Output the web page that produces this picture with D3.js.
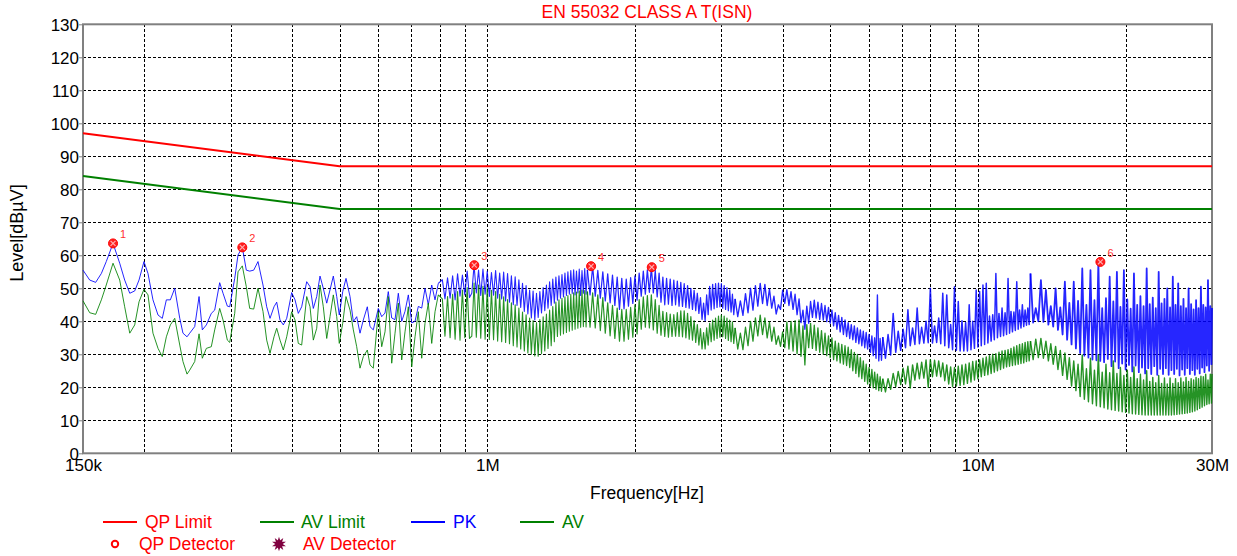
<!DOCTYPE html>
<html><head><meta charset="utf-8">
<script src="https://cdn.jsdelivr.net/npm/d3@7"></script>
<style>
html,body{margin:0;padding:0;background:#fff;}
svg{display:block;font-family:"Liberation Sans",Arial,sans-serif;}
</style></head>
<body><svg id="chart" width="1237" height="556"></svg>
<script>
// ---------------- data (frequencies in kHz, levels in dBµV) ----------------
const titleText = "EN 55032 CLASS A T(ISN)";
const yTicks = [0,10,20,30,40,50,60,70,80,90,100,110,120,130];
const xTickFreq = [150, 1000, 10000, 30000];
const xTickLabels = ["150k", "1M", "10M", "30M"];
const xGridFreq = [200,300,400,500,600,700,800,900,1000,2000,3000,4000,5000,6000,7000,8000,9000,10000,20000];

const qpLimitFreq = [150, 500, 30000];
const qpLimitLevel = [97, 87, 87];
const avLimitFreq = [150, 500, 30000];
const avLimitLevel = [84, 74, 74];

const markerFreq = [172.7, 316.8, 941, 1628, 2164, 17769];
const markerLevel = [63.6, 62.4, 57.0, 56.7, 56.4, 58.0];
const markerLabel = ["1","2","3","4","5","6"];

// 150 kHz - 800 kHz
const freqA = [150.0,154.8,159.2,163.5,167.3,172.7,178.2,182.4,186.8,191.2,195.1,199.7,203.5,208.3,213.3,217.6,221.8,226.0,230.7,236.2,239.8,244.4,247.5,253.4,258.6,262.6,267.6,273.9,278.3,284.9,289.4,295.3,298.6,305.7,310.5,316.8,322.8,328.0,334.2,341.0,349.1,
355.2,360.8,367.6,372.3,378.1,384.0,390.2,399.4,405.7,412.0,418.6,428.6,435.3,442.1,449.2,456.2,463.3,470.8,478.1,485.6,493.4,499.4,507.5,515.4,525.2,533.4,541.9,550.4,559.0,569.6,576.8,585.8,
599.7,609.4,618.9,628.5,638.7,648.7,658.8,669.4,679.8,690.5,701.6,712.5,723.6,735.3,746.7,758.4,770.6,782.6,794.8];
const pkA = [55.5,52.5,51.8,54.5,58.1,63.6,57.6,52.5,48.5,49.2,52.5,58.1,54.5,46.5,41.9,40.9,46.5,46.5,50.0,40.9,36.4,35.3,36.4,38.4,47.5,37.4,38.9,42.4,43.4,51.7,48.5,44.6,44.4,53.0,60.1,62.4,55.5,55.2,55.5,58.1,51.0,
44.4,40.9,44.4,45.8,40.4,38.9,40.9,48.7,46.5,42.4,44.4,52.0,50.5,43.9,47.5,53.7,50.0,45.5,49.5,53.7,47.5,41.9,49.0,53.0,47.5,39.9,41.4,36.4,40.4,44.4,38.4,37.4,
43.9,41.4,42.5,49.0,41.0,40.5,48.5,40.0,43.0,48.0,39.5,40.0,44.5,44.0,50.0,45.0,51.0,46.5,51.5];
const avA = [46.2,42.6,42.1,46.5,51.0,57.6,52.5,44.4,36.4,38.9,45.9,49.7,48.0,36.4,31.8,29.3,35.3,38.9,40.9,32.8,27.8,24.0,25.2,27.8,36.2,28.8,31.8,32.3,37.4,43.9,40.4,34.3,33.6,42.4,55.0,56.8,50.5,43.9,43.7,50.0,43.0,
34.3,30.3,35.3,37.9,34.3,31.3,35.3,42.9,40.4,33.3,32.8,47.5,44.4,34.3,37.9,51.0,44.4,34.8,41.4,48.0,41.4,33.3,39.4,47.5,43.4,37.4,32.3,25.8,29.3,31.3,26.8,25.8,
42.9,32.3,36.8,47.5,27.3,36.4,45.5,28.3,36.8,44.4,26.2,35.3,42.9,28.8,39.4,45.5,33.3,42.9,48.0];

// 810 kHz - 1.6 MHz
const freqB = [810,820,830,840,850,860,870,880,890,900,910,920,930,940,950,960,970,980,990,1000,1010,1020,1030,1040,1050,1060,1070,1080,1090,1100,1110,1120,1130,1140,1150,1160,1170,1180,1190,1200,1210,1220,1230,1240,1250,1260,1270,1280,1290,1300,1310,1320,1330,1340,1350,1360,1370,1380,1390,1400,1410,1420,1430,1440,1450,1460,1470,1480,1490,1500,1510,1520,1530,1540,1550,1560,1570,1580,1590,1600];
const pkB = [52.6,46.8,53.2,47.0,53.8,46.5,54.4,47.6,54.0,48.0,55.2,47.2,48.5,57.0,48.6,55.5,47.8,55.8,48.2,55.2,47.5,54.8,47.9,55.4,47.0,54.6,46.8,54.9,46.2,54.5,45.8,53.8,45.0,53.5,44.8,52.6,44.2,51.5,43.0,50.8,42.2,49.5,41.0,49.2,40.4,48.5,41.2,49.0,42.5,50.2,43.2,51.0,44.0,52.0,44.8,52.8,45.5,53.4,46.4,53.8,47.0,54.2,47.4,54.6,47.8,55.0,48.2,55.4,48.4,55.6,48.0,55.2,48.6,55.8,47.8,55.4,48.5,56.0,48.2,55.6];
const avB = [46.8,35.5,47.5,35.0,48.2,34.6,49.0,34.3,49.5,35.0,50.2,34.8,35.5,51.6,35.2,51.0,34.9,50.6,34.6,50.2,34.5,49.4,34.4,49.0,34.0,48.2,33.8,47.4,33.6,46.6,33.2,45.6,32.6,45.0,32.2,44.0,31.6,42.8,31.0,42.0,30.4,41.0,30.0,40.2,29.5,39.6,29.4,40.5,30.2,41.4,31.0,42.2,31.8,43.4,32.6,44.5,33.8,45.8,35.4,46.5,35.8,47.0,36.2,47.4,36.6,47.8,37.0,48.2,37.3,48.6,37.6,48.9,37.9,49.2,38.2,49.5,38.4,49.3,38.3,49.0];

// 1.62 MHz - 3.2 MHz
const freqC = [1620,1640,1660,1680,1700,1720,1740,1760,1780,1800,1820,1840,1860,1880,1900,1920,1940,1960,1980,2000,2020,2040,2060,2080,2100,2120,2140,2160,2180,2200,2220,2240,2260,2280,2300,2320,2340,2360,2380,2400,2420,2440,2460,2480,2500,2520,2540,2560,2580,2600,2620,2640,2660,2680,2700,2720,2740,2760,2780,2800,2820,2840,2860,2880,2900,2920,2940,2960,2980,3000,3020,3040,3060,3080,3100,3120,3140,3160,3180,3200];
const pkC = [48.0,56.6,47.6,55.4,47.0,55.0,46.2,54.4,45.6,54.0,44.8,53.4,43.6,53.0,43.8,52.8,44.6,53.2,45.4,53.8,46.4,54.6,47.6,55.2,48.2,55.6,48.8,56.4,48.6,55.4,47.4,54.6,45.8,53.4,45.0,53.0,45.2,52.8,44.8,52.5,45.0,52.2,44.6,51.8,44.5,51.4,44.2,50.8,44.0,50.0,43.6,49.4,43.2,48.5,42.4,47.2,40.6,45.5,40.2,48.0,42.0,50.6,43.4,51.2,43.8,51.4,44.2,51.6,44.4,51.4,44.0,50.8,43.6,50.2,43.2,49.5,42.8,48.2,42.0,46.8];
const avC = [38.2,48.6,38.0,48.0,37.2,47.2,36.4,45.6,35.6,44.8,34.8,44.0,34.0,43.6,34.0,43.6,34.6,44.2,35.2,45.0,36.2,46.6,37.6,47.4,38.2,47.8,38.0,48.0,37.4,46.6,36.4,44.8,35.8,43.0,35.4,42.6,35.2,42.2,35.4,42.0,35.5,42.6,35.4,43.2,35.3,43.2,35.0,42.4,34.6,41.4,34.3,40.2,33.6,39.0,32.8,37.8,31.6,36.6,31.6,38.0,32.8,39.4,33.8,40.4,34.3,41.0,34.8,41.6,35.2,41.9,35.3,41.6,34.8,41.0,34.2,40.4,33.8,39.8,33.3,38.0];

// 3.24 MHz - 6.4 MHz
const freqD = [3240,3280,3320,3360,3400,3440,3480,3520,3560,3600,3640,3680,3720,3760,3800,3840,3880,3920,3960,4000,4040,4080,4120,4160,4200,4240,4280,4320,4360,4400,4440,4480,4520,4560,4600,4640,4680,4720,4760,4800,4840,4880,4920,4960,5000,5040,5080,5120,5160,5200,5240,5280,5320,5360,5400,5440,5480,5520,5560,5600,5640,5680,5720,5760,5800,5840,5880,5920,5960,6000,6040,6080,6120,6160,6200,6240,6280,6320,6360,6400];
const pkD = [41.4,46.2,41.8,48.4,42.6,50.0,43.4,50.8,44.6,51.5,45.4,51.2,44.8,49.8,44.0,47.6,42.2,45.0,43.6,49.4,45.4,49.6,44.8,49.0,43.6,48.2,42.0,46.8,39.6,43.4,37.6,44.6,39.4,46.0,41.2,46.4,41.0,45.8,40.6,45.4,40.4,44.8,39.9,44.2,39.4,43.4,38.6,42.6,37.6,41.8,36.8,41.2,36.0,40.4,35.4,39.6,34.8,39.0,34.4,38.6,33.6,38.0,33.2,37.4,32.6,37.0,32.0,36.6,31.6,36.0,30.6,35.6,29.6,35.0,28.8,48.0,28.0,34.8,28.2,35.2];
const avD = [31.6,36.4,31.4,38.2,32.6,40.0,34.0,41.0,35.6,41.9,36.0,41.0,35.0,39.8,34.0,38.2,33.0,35.6,32.4,36.8,32.0,39.8,31.6,40.0,31.0,40.2,30.2,40.4,29.4,38.6,26.8,39.0,32.0,39.4,31.8,38.8,31.2,38.0,30.6,37.2,30.0,36.4,29.6,35.6,29.0,35.0,28.4,34.0,28.0,33.4,27.4,33.0,27.0,32.6,26.6,32.2,26.0,31.4,25.0,30.6,24.2,30.0,23.2,29.0,22.6,28.0,21.8,27.0,21.0,26.0,20.4,25.4,19.8,24.6,19.4,24.0,19.0,23.2,18.8,22.6];

// 6.48 MHz - 12.8 MHz
const freqE = [6480,6560,6640,6720,6800,6880,6960,7040,7120,7200,7280,7360,7440,7520,7600,7680,7760,7840,7920,8000,8080,8160,8240,8320,8400,8480,8560,8640,8720,8800,8880,8960,9040,9120,9200,9280,9360,9440,9520,9600,9680,9760,9840,9920,10000,10080,10160,10240,10320,10400,10480,10560,10640,10720,10800,10880,10960,11040,11120,11200,11280,11360,11440,11520,11600,11680,11760,11840,11920,12000,12080,12160,12240,12320,12400,12480,12560,12640,12720,12800];
const pkE = [28.8,36.0,29.8,42.4,30.6,37.0,31.2,37.6,32.0,43.5,32.6,38.0,33.0,44.0,33.2,38.2,33.4,40.0,33.5,50.0,33.4,38.6,33.6,41.0,33.2,48.5,32.6,48.0,32.0,39.0,31.4,50.5,31.2,46.0,31.0,40.2,31.0,39.6,31.0,45.0,31.4,40.0,31.8,49.5,32.2,49.0,32.6,51.0,33.0,51.5,33.4,41.6,34.0,42.0,34.4,54.5,35.0,42.4,35.4,44.0,35.6,42.6,36.0,53.0,36.4,43.0,36.8,42.8,37.2,52.0,37.6,43.4,38.0,45.0,38.4,43.4,38.8,44.0,39.0,54.5];
const avE = [18.6,22.6,19.4,24.2,20.2,24.8,20.8,25.8,21.0,26.4,19.8,26.8,22.2,27.3,22.6,27.6,22.8,28.3,20.0,28.4,23.2,28.2,23.4,28.0,23.2,27.4,22.0,26.8,21.0,26.2,20.2,26.0,20.4,26.4,20.6,26.8,20.8,27.0,21.2,27.4,21.6,27.8,22.2,28.0,22.6,28.3,23.2,28.8,23.6,29.2,23.8,29.6,24.2,30.0,24.6,30.2,25.0,30.6,25.4,31.0,25.8,31.2,26.2,31.4,26.4,31.8,26.6,32.2,26.8,32.6,27.0,33.0,27.2,33.2,27.4,33.6,27.8,33.8,28.0,34.0];

// 12.96 MHz - 30 MHz
const freqF = [12960,13120,13280,13440,13600,13760,13920,14080,14240,14400,14560,14720,14880,15040,15200,15360,15520,15680,15840,16000,16160,16320,16480,16640,16800,16960,17120,17280,17440,17600,17760,17920,18080,18240,18400,18560,18720,18880,19040,19200,19360,19520,19680,19840,20000,20160,20320,20480,20640,20800,20960,21120,21280,21440,21600,21760,21920,22080,22240,22400,22560,22720,22880,23040,23200,23360,23520,23680,23840,24000,24160,24320,24480,24640,24800,24960,25120,25280,25440,25600,25760,25920,26080,26240,26400,26560,26720,26880,27040,27200,27360,27520,27680,27840,28000,28160,28320,28480,28640,28800,28960,29120,29280,29440,29600,29760,29920,30000];
const pkF = [39.6,44.0,40.0,52.5,39.8,49.5,39.0,44.6,38.4,50.0,37.4,44.2,36.0,52.0,34.4,45.6,33.0,52.0,31.8,46.2,30.4,56.0,29.6,45.0,29.0,55.5,28.4,46.4,28.2,57.9,28.0,44.0,27.6,47.0,28.6,53.5,26.4,46.0,27.8,55.0,25.8,44.4,27.2,55.5,25.4,46.6,26.8,43.8,24.8,54.5,26.6,45.0,24.6,47.6,26.0,44.6,24.2,56.0,25.8,45.2,24.0,47.2,26.4,44.0,23.8,55.0,25.6,45.4,24.0,46.8,25.8,50.0,23.8,44.2,25.2,53.5,24.0,45.0,25.6,51.5,23.6,44.6,25.4,46.8,23.8,44.0,25.8,50.0,24.0,45.2,25.2,43.6,23.8,46.4,25.6,44.0,24.2,50.5,26.0,45.0,24.6,44.2,26.6,52.5,25.0,44.6,27.0,44.0];
const avF = [28.4,34.6,29.0,34.8,28.8,34.0,28.0,33.2,27.0,32.4,25.4,31.2,23.6,30.4,22.4,29.0,20.4,28.0,19.0,27.0,17.2,29.8,16.4,25.6,15.6,28.8,15.0,25.2,14.4,29.8,14.1,24.6,13.8,27.0,13.4,24.4,13.2,28.0,13.0,24.2,12.8,26.0,12.6,23.6,12.4,25.2,12.2,23.0,12.0,26.2,11.9,22.6,11.8,24.0,11.7,22.2,11.6,25.0,11.6,21.8,11.6,23.0,11.6,21.4,11.6,23.6,11.6,21.2,11.6,22.8,11.6,21.0,11.6,22.8,11.6,21.2,11.7,22.6,11.8,21.4,11.9,22.8,12.0,21.6,12.1,23.0,12.2,21.8,12.4,22.6,12.6,22.2,12.8,23.0,13.2,22.6,13.6,23.4,14.0,23.2,14.4,24.0,14.8,22.2,15.0,24.0,15.2,24.0];

// ---------------- drawing ----------------
const svg = d3.select("#chart");
const x = d3.scaleLog().domain([150e3, 30e6]).range([83, 1212]);
const y = d3.scaleLinear().domain([0, 130]).range([453.3, 24.3]);
const FONT = '"Liberation Sans",Arial,sans-serif';

svg.append("rect").attr("width",1237).attr("height",556).attr("fill","#fff");

// grid
const grid = svg.append("g").attr("stroke","#000").attr("stroke-width",1).attr("stroke-dasharray","3,2").attr("shape-rendering","crispEdges");
yTicks.filter(v => v > 0 && v < 130).forEach(v => {
  grid.append("line").attr("x1",x(150e3)).attr("x2",x(30e6)).attr("y1",Math.round(y(v))+0.5).attr("y2",Math.round(y(v))+0.5);
});
xGridFreq.forEach(f => {
  const xx = Math.round(x(f*1e3))+0.5;
  grid.append("line").attr("x1",xx).attr("x2",xx).attr("y1",y(130)).attr("y2",y(0));
});

// frame
svg.append("rect").attr("x",x(150e3)).attr("y",y(130)).attr("width",x(30e6)-x(150e3)).attr("height",y(0)-y(130))
  .attr("fill","none").attr("stroke","#808080").attr("stroke-width",2);

// y axis
const yAxis = d3.axisLeft(y).tickValues(yTicks).tickSize(4).tickFormat(d3.format("d"));
const gy = svg.append("g").attr("transform",`translate(${x(150e3)},0)`).call(yAxis);
gy.select(".domain").remove();
gy.selectAll(".tick line").attr("stroke","#808080");
gy.selectAll(".tick text").attr("font-family",FONT).attr("font-size",17).attr("fill","#000").attr("x",-4).attr("dy","0.35em");

// x axis labels
const xAxis = d3.axisBottom(x).tickValues(xTickFreq.map(f=>f*1e3)).tickSize(0).tickFormat((d,i)=>xTickLabels[i]);
const gx = svg.append("g").attr("transform",`translate(0,${y(0)})`).call(xAxis);
gx.select(".domain").remove();
gx.selectAll(".tick text").attr("font-family",FONT).attr("font-size",17).attr("fill","#000").attr("y",6).attr("dy","0.71em");

// titles
svg.append("text").attr("x",647).attr("y",18).attr("text-anchor","middle").attr("font-family",FONT)
  .attr("font-size",17.5).attr("fill","#ff0000").text(titleText);
svg.append("text").attr("x",647).attr("y",499).attr("text-anchor","middle").attr("font-family",FONT)
  .attr("font-size",17.5).attr("fill","#000").text("Frequency[Hz]");
svg.append("text").attr("transform","translate(23,233) rotate(-90)").attr("text-anchor","middle").attr("font-family",FONT)
  .attr("font-size",18).attr("fill","#000").text("Level[dBµV]");

// traces, drawn per frequency band (denser bands get a slightly wider pen)
function series(fr, lv){ return fr.map((f,i)=>({f:f*1e3, v:lv[i]})).filter(d=>d.v!=null); }
const line = d3.line().x(d=>x(d.f)).y(d=>y(d.v));
const bands = [
  {f:freqA, pk:pkA, av:avA, wp:1.0, wa:1.0},
  {f:freqB, pk:pkB, av:avB, wp:1.1, wa:1.1},
  {f:freqC, pk:pkC, av:avC, wp:1.25, wa:1.2},
  {f:freqD, pk:pkD, av:avD, wp:1.35, wa:1.3},
  {f:freqE, pk:pkE, av:avE, wp:1.5, wa:1.4},
  {f:freqF, pk:pkF, av:avF, wp:1.8, wa:1.4}
];
const plot = svg.append("g");
const gPk = plot.append("g"), gAv = plot.append("g");
bands.forEach((b,i)=>{
  let pk = series(b.f,b.pk), av = series(b.f,b.av);
  if(i>0){
    const p = bands[i-1];
    const n = p.f.length-1;
    pk = [{f:p.f[n]*1e3, v:p.pk[n]}].concat(pk);
    av = [{f:p.f[n]*1e3, v:p.av[n]}].concat(av);
  }
  gPk.append("path").datum(pk).attr("d",line).attr("fill","none").attr("stroke","#0000ff").attr("stroke-width",b.wp).attr("stroke-opacity",0.85).attr("stroke-linejoin","round");
  gAv.append("path").datum(av).attr("d",line).attr("fill","none").attr("stroke","#008000").attr("stroke-width",b.wa).attr("stroke-opacity",0.85).attr("stroke-linejoin","round");
});

// limits
plot.append("path").datum(series(qpLimitFreq,qpLimitLevel)).attr("d",line).attr("fill","none").attr("stroke","#ff0000").attr("stroke-width",2);
plot.append("path").datum(series(avLimitFreq,avLimitLevel)).attr("d",line).attr("fill","none").attr("stroke","#008000").attr("stroke-width",2);

// markers
const mk = plot.selectAll("g.mk").data(markerFreq.map((f,i)=>({f:f*1e3,v:markerLevel[i],t:markerLabel[i]})))
  .join("g").attr("class","mk").attr("transform",d=>`translate(${x(d.f)},${y(d.v)})`);
mk.append("circle").attr("r",4.5).attr("fill","#ff2020").attr("stroke","#ff0000").attr("stroke-width",1);
mk.append("path").attr("d","M-2.5,-2.5L2.5,2.5M-2.5,2.5L2.5,-2.5").attr("stroke","#ffb0b0").attr("stroke-width",1.2);
mk.append("text").attr("x",7).attr("y",-5).attr("font-family",FONT).attr("font-size",11).attr("fill","#ff3030").text(d=>d.t);

// legend
const lg = svg.append("g").attr("font-family",FONT).attr("font-size",17.5);
const legendRow1 = [
  {x1:103,x2:137,tx:145,c:"#ff0000",tc:"#ff0000",t:"QP Limit",w:2},
  {x1:260,x2:294,tx:301,c:"#008000",tc:"#008000",t:"AV Limit",w:2},
  {x1:411,x2:445,tx:453,c:"#0000ff",tc:"#0000ff",t:"PK",w:2},
  {x1:520,x2:554,tx:562,c:"#008000",tc:"#008000",t:"AV",w:2}
];
legendRow1.forEach(d=>{
  lg.append("line").attr("x1",d.x1).attr("x2",d.x2).attr("y1",522).attr("y2",522).attr("stroke",d.c).attr("stroke-width",d.w);
  lg.append("text").attr("x",d.tx).attr("y",528).attr("fill",d.tc).text(d.t);
});
lg.append("circle").attr("cx",115).attr("cy",544).attr("r",3.2).attr("fill","none").attr("stroke","#ff0000").attr("stroke-width",2);
lg.append("text").attr("x",139).attr("y",550).attr("fill","#ff0000").text("QP Detector");
lg.append("path").attr("transform","translate(279,544)").attr("d",d3.symbol(d3.symbolStar,60)()).attr("fill","#800040");
lg.append("path").attr("transform","translate(279,544) rotate(36)").attr("d",d3.symbol(d3.symbolStar,60)()).attr("fill","#800040");
lg.append("text").attr("x",303).attr("y",550).attr("fill","#ff0000").text("AV Detector");
</script>
</body></html>
